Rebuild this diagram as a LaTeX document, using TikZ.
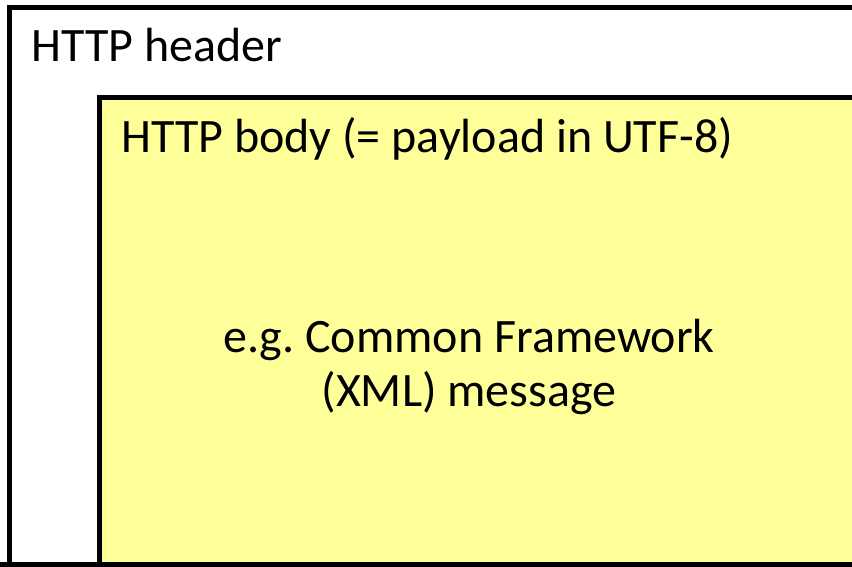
\documentclass[tikz,border=0pt]{standalone}
\usepackage{fontspec}
\setmainfont{Carlito}
\frenchspacing
\definecolor{bodyyellow}{HTML}{FFFF99}
\tikzset{
  frame/.style={line width=5.5pt, draw=black},
  label/.style={inner sep=0pt, font=\fontsize{48}{54}\selectfont}
}
\begin{document}
\begin{tikzpicture}[x=1pt,y=-1pt]
    \useasboundingbox (0,0) rectangle (852,567);
    \clip (0,0) rectangle (852,567);
    % outer frame: HTTP header
    \draw[frame, fill=white] (9.5,7.5) rectangle (870,565);
    % inner frame: HTTP body
    \draw[frame, fill=bodyyellow] (99.5,97.5) rectangle (870,565);
    \draw[frame] (0,565) -- (870,565);
    \node[label, anchor=base west] (header) at (31,62) {HTTP header};
    \node[label, anchor=base west] (body) at (121,153) {HTTP body (= payload in UTF-8)};
    \node[label, align=center] (msg) at (469,367) {e.g. Common Framework\\(XML) message};
  \end{tikzpicture}
\end{document}
